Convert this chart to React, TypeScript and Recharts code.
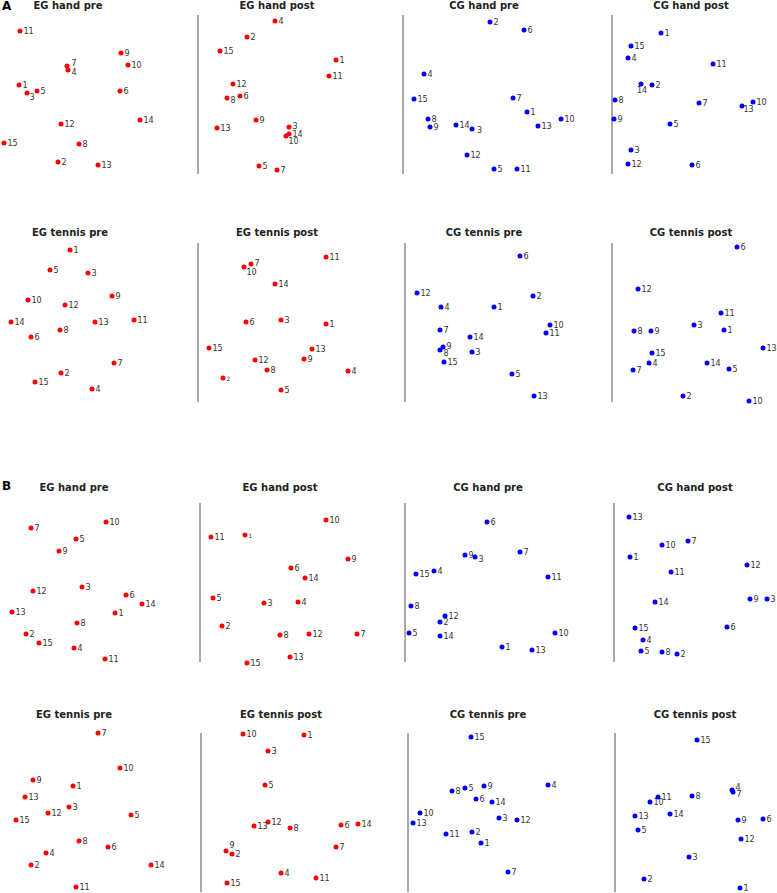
import React from 'react';
import { ScatterChart, Scatter, XAxis, YAxis, ReferenceLine } from 'recharts';

// point number, x, y (panel-local units, y grows downward)
type Pt = [number, number, number];

// --- A ---
const aEgHandPre: Pt[] = [
  [11, 20, 21], [9, 121, 43], [10, 128, 55], [7, 67, 56], [4, 68, 60],
  [1, 19, 75], [3, 27, 83], [5, 37, 81], [6, 120, 81], [14, 140, 110],
  [12, 61, 114], [15, 4, 133], [8, 79, 134], [2, 58, 152], [13, 98, 155],
];
const aEgHandPost: Pt[] = [
  [4, 77, 11], [2, 49, 27], [15, 22, 41], [1, 138, 50], [11, 131, 66],
  [12, 35, 74], [6, 42, 86], [8, 29, 88], [9, 58, 110], [3, 91, 117],
  [14, 91, 124], [10, 88, 126], [13, 19, 118], [5, 61, 156], [7, 79, 160],
];
const aCgHandPre: Pt[] = [
  [2, 87, 12], [6, 121, 20], [4, 21, 64], [15, 11, 89], [7, 110, 88],
  [1, 124, 102], [8, 25, 109], [9, 27, 117], [14, 53, 115], [3, 69, 119],
  [13, 135, 116], [10, 158, 109], [12, 64, 145], [5, 91, 159], [11, 114, 159],
];
const aCgHandPost: Pt[] = [
  [1, 49, 23], [15, 19, 36], [4, 16, 48], [11, 101, 54], [14, 29, 74],
  [2, 40, 75], [8, 3, 90], [7, 87, 93], [13, 130, 96], [10, 141, 92],
  [9, 2, 109], [5, 58, 114], [3, 19, 140], [12, 16, 154], [6, 80, 155],
];
const aEgTennisPre: Pt[] = [
  [1, 70, 12], [5, 50, 32], [3, 88, 35], [9, 112, 58], [10, 28, 62],
  [12, 65, 67], [14, 11, 84], [13, 95, 84], [11, 134, 82], [8, 60, 92],
  [6, 31, 99], [7, 114, 125], [2, 61, 135], [15, 35, 144], [4, 92, 151],
];
const aEgTennisPost: Pt[] = [
  [11, 128, 19], [7, 53, 26], [10, 46, 29], [14, 77, 46], [6, 48, 84],
  [3, 83, 82], [1, 128, 86], [15, 11, 110], [13, 114, 111], [12, 57, 122],
  [9, 106, 121], [8, 69, 132], [4, 150, 133], [2, 25, 140], [5, 83, 152],
];
const aCgTennisPre: Pt[] = [
  [6, 115, 18], [12, 12, 55], [2, 128, 58], [4, 36, 69], [1, 89, 69],
  [10, 145, 87], [11, 141, 95], [7, 35, 92], [14, 65, 99], [9, 38, 109],
  [8, 35, 112], [3, 67, 114], [15, 39, 124], [5, 107, 136], [13, 129, 158],
];
const aCgTennisPost: Pt[] = [
  [6, 125, 9], [12, 26, 51], [11, 109, 75], [3, 82, 87], [8, 22, 93],
  [9, 39, 93], [1, 112, 92], [13, 151, 110], [15, 40, 115], [4, 37, 125],
  [14, 95, 125], [5, 117, 131], [7, 21, 132], [2, 71, 158], [10, 137, 163],
];

// --- B ---
const bEgHandPre: Pt[] = [
  [10, 106, 24], [7, 31, 30], [5, 76, 41], [9, 59, 53], [12, 33, 93],
  [3, 82, 89], [6, 126, 97], [14, 142, 106], [13, 12, 114], [1, 115, 115],
  [8, 77, 125], [2, 26, 136], [15, 39, 145], [4, 74, 150], [11, 105, 161],
];
const bEgHandPost: Pt[] = [
  [10, 126, 22], [11, 11, 39], [1, 45, 37], [9, 148, 61], [6, 91, 70],
  [14, 105, 80], [5, 13, 100], [3, 64, 105], [4, 98, 104], [2, 22, 128],
  [8, 80, 137], [12, 109, 136], [7, 157, 136], [13, 90, 159], [15, 47, 165],
];
const bCgHandPre: Pt[] = [
  [6, 82, 24], [9, 60, 57], [3, 70, 59], [7, 115, 54], [4, 29, 73],
  [15, 11, 76], [11, 143, 79], [8, 6, 108], [12, 40, 118], [2, 35, 124],
  [5, 4, 135], [14, 35, 138], [10, 150, 135], [1, 97, 149], [13, 127, 152],
];
const bCgHandPost: Pt[] = [
  [13, 15, 19], [7, 74, 43], [10, 48, 47], [1, 16, 59], [12, 133, 67],
  [11, 57, 74], [14, 41, 104], [9, 136, 101], [3, 153, 101], [6, 113, 129],
  [15, 21, 130], [4, 29, 142], [5, 27, 153], [8, 48, 154], [2, 63, 156],
];
const bEgTennisPre: Pt[] = [
  [7, 98, 5], [10, 120, 40], [9, 33, 52], [1, 73, 58], [13, 25, 69],
  [3, 69, 79], [12, 48, 85], [15, 16, 92], [5, 131, 87], [8, 79, 113],
  [6, 108, 119], [4, 46, 125], [2, 31, 137], [14, 151, 137], [11, 76, 159],
];
const bEgTennisPost: Pt[] = [
  [10, 42, 6], [1, 103, 7], [3, 67, 23], [5, 64, 57], [12, 67, 94],
  [13, 53, 98], [8, 89, 100], [6, 140, 97], [14, 157, 96], [7, 135, 119],
  [9, 25, 123], [2, 31, 126], [4, 80, 145], [11, 115, 150], [15, 26, 155],
];
const bCgTennisPre: Pt[] = [
  [15, 63, 9], [4, 140, 57], [9, 76, 58], [5, 57, 60], [8, 44, 63],
  [6, 68, 71], [14, 84, 74], [10, 12, 85], [13, 5, 95], [3, 91, 90],
  [12, 109, 92], [11, 38, 106], [2, 64, 104], [1, 73, 115], [7, 100, 144],
];
const bCgTennisPost: Pt[] = [
  [15, 82, 12], [4, 117, 62], [7, 118, 64], [11, 43, 69], [8, 77, 68],
  [10, 35, 74], [13, 20, 88], [14, 55, 86], [9, 123, 92], [6, 148, 91],
  [5, 23, 102], [12, 126, 111], [3, 74, 129], [2, 29, 151], [1, 125, 160],
];

const titles = ['EG hand pre', 'EG hand post', 'CG hand pre', 'CG hand post',
  'EG tennis pre', 'EG tennis post', 'CG tennis pre', 'CG tennis post'];

// layout
const ROW_TOP = [10, 238, 498, 728];
const TITLE_Y = [5, 232, 487, 714];
const COL_LEFT = [[0, 198, 403, 612], [0, 198, 405, 612], [0, 200, 405, 614], [0, 201, 408, 615]];
const TITLE_X = [[68, 277, 484, 691], [70, 277, 484, 691], [74, 280, 488, 695], [74, 281, 488, 695]];
const RED = '#ff0000';
const BLUE = '#0000ff';

// label nudges for crowded points: key `panel-n` -> [dx, dy, fontSize?]
const NUDGE: Record<string, number[]> = {
  '0-3': [-1, 4], '0-7': [1, -3], '0-4': [0, 1.5],
  '1-10': [-1, 4.5], '1-14': [0, -0.5], '1-3': [0, -1], '1-8': [0, 1.5],
  '2-3': [1.5, 1],
  '3-14': [-7.5, 6], '3-13': [-2, 2.5],
  '5-10': [-1, 4.5], '5-7': [0, -1.5], '5-2': [0, 0, 6],
  '6-9': [0, -1.5], '6-8': [0, 2.5],
  '9-1': [0, 0, 6],
  '10-3': [0, 2],
  '13-9': [0, -6.5],
  '15-4': [0, -3], '15-7': [0, 2],
};

const data = [
  aEgHandPre, aEgHandPost, aCgHandPre, aCgHandPost,
  aEgTennisPre, aEgTennisPost, aCgTennisPre, aCgTennisPost,
  bEgHandPre, bEgHandPost, bCgHandPre, bCgHandPost,
  bEgTennisPre, bEgTennisPost, bCgTennisPre, bCgTennisPost,
];

const FONT = '"DejaVu Sans", Verdana, sans-serif';

function Panel({ idx }: { idx: number }) {
  const row = Math.floor(idx / 4);
  const col = idx % 4;
  const color = col < 2 ? RED : BLUE;
  const pts = data[idx].map(([n, x, y]) => ({ n, x, y }));
  const left = COL_LEFT[row][col];
  const top = ROW_TOP[row];

  const shape = (p: any) => {
    const nd = NUDGE[`${idx}-${p.payload.n}`] || [0, 0];
    return (
      <g>
        <circle cx={p.cx} cy={p.cy} r={2.5} fill={color} />
        <text x={p.cx + 3.5 + nd[0]} y={p.cy + 3.3 + nd[1]} fontSize={nd[2] || 8}
          fill="#333" fontFamily={FONT}>{p.payload.n}</text>
      </g>
    );
  };

  return (
    <>
      <div style={{
        position: 'absolute', left: TITLE_X[row][col], top: TITLE_Y[row],
        transform: 'translate(-50%, -50%)', fontFamily: FONT, fontWeight: 'bold',
        fontSize: 10, color: '#222', whiteSpace: 'nowrap',
      }}>{titles[idx % 8]}</div>
      <div style={{ position: 'absolute', left: left - 1, top }}>
        <ScatterChart width={201} height={170} margin={{ top: 0, right: 0, bottom: 0, left: 1 }}>
          <XAxis type="number" dataKey="x" domain={[0, 200]} hide />
          <YAxis type="number" dataKey="y" domain={[0, 170]} reversed hide />
          {col > 0 && (
            <ReferenceLine segment={[{ x: 0, y: 5 }, { x: 0, y: 164 }]} stroke="#555" strokeWidth={1} />
          )}
          <Scatter data={pts} shape={shape} isAnimationActive={false} />
        </ScatterChart>
      </div>
    </>
  );
}

export default function App() {
  return (
    <div style={{
      position: 'absolute', left: 0, top: 0, width: 777, height: 893,
      overflow: 'hidden', background: '#fff',
    }}>
      <div style={{ position: 'absolute', left: 2, top: -1, fontFamily: FONT, fontWeight: 'bold', fontSize: 12 }}>A</div>
      <div style={{ position: 'absolute', left: 2, top: 479, fontFamily: FONT, fontWeight: 'bold', fontSize: 12 }}>B</div>
      {data.map((_, i) => <Panel key={i} idx={i} />)}
    </div>
  );
}
